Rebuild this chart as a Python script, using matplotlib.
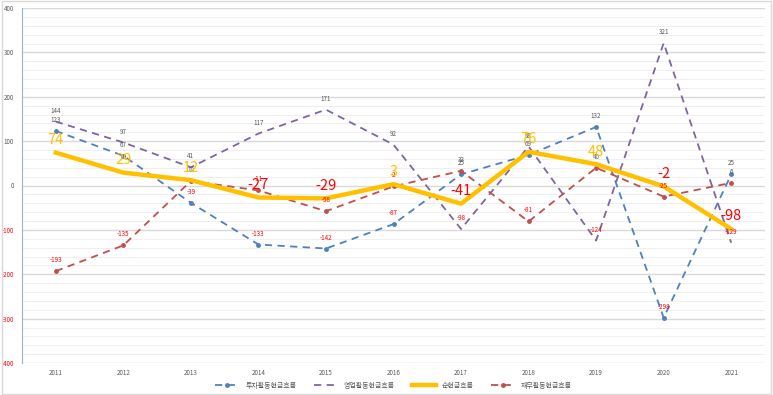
import matplotlib.pyplot as plt
import numpy as np

plt.rcParams['font.family'] = ['Noto Sans CJK KR', 'DejaVu Sans']

years = ['2011', '2012', '2013', '2014', '2015', '2016', '2017', '2018', '2019', '2020', '2021']
invest = [123, 67, -39, -133, -142, -87, 25, 69, 132, -298, 25]
operate = [144, 97, 41, 117, 171, 92, -98, 88, -124, 321, -129]
net = [74, 29, 12, -27, -29, 3, -41, 76, 48, -2, -98]
finance = [-193, -135, 10, -11, -58, -2, 33, -81, 40, -25, 6]

c_inv = '#4F81BD'
c_op = '#8064A2'
c_net = '#FFC000'
c_fin = '#C0504D'
gray = '#595959'
neg = '#FF0000'

fig = plt.figure(figsize=(7.73, 3.95), dpi=100)
ax = fig.add_axes([22 / 773, 1 - 363 / 395, 743 / 773, 355 / 395])
x = np.arange(len(years))

# gridlines: major every 100, minor every 20
for v in range(-400, 401, 20):
    if v % 100 == 0:
        ax.axhline(v, color='#D9D9D9', lw=1.0, zorder=0)
    else:
        ax.axhline(v, color='#EDEDED', lw=0.6, zorder=0)

ax.plot(x, invest, color=c_inv, lw=1.3, ls=(0, (4, 3)), marker='o', ms=2.5, zorder=3,
        label='투자활동현금흐름')
ax.plot(x, operate, color=c_op, lw=1.3, ls=(0, (4, 3)), zorder=3, label='영업활동현금흐름')
ax.plot(x, net, color=c_net, lw=3.2, zorder=4, label='순현금흐름')
ax.plot(x, finance, color=c_fin, lw=1.3, ls=(0, (4, 3)), marker='o', ms=2.5, zorder=3,
        label='재무활동현금흐름')

for series in (invest, operate, finance):
    for i, v in enumerate(series):
        ax.annotate(str(v), (i, v), xytext=(0, 5), textcoords='offset points', ha='center',
                    va='bottom', fontsize=4.5, color=gray if v >= 0 else neg, zorder=5)
for i, v in enumerate(net):
    ax.annotate(str(v), (i, v), xytext=(0, 4), textcoords='offset points', ha='center',
                va='bottom', fontsize=10.5, color=c_net if v >= 0 else neg, zorder=6)

ax.set_xlim(-0.5, len(years) - 0.5)
ax.set_ylim(-400, 400)
ax.set_xticks(x)
ax.set_xticklabels(years, fontsize=4.5, color=gray)
ax.set_yticks(range(-400, 401, 100))
ax.set_yticklabels([str(v) for v in range(-400, 401, 100)], fontsize=4.5)
for lab, v in zip(ax.get_yticklabels(), range(-400, 401, 100)):
    lab.set_color(gray if v >= 0 else neg)
ax.tick_params(axis='y', length=0, pad=6)
ax.tick_params(axis='x', length=0, pad=4)
for s in ['top', 'right', 'bottom']:
    ax.spines[s].set_visible(False)
ax.spines['left'].set_color('#95B3D7')
ax.spines['left'].set_linewidth(0.8)

ax.legend(loc='upper center', bbox_to_anchor=(0.5, -0.035), ncol=4, frameon=False,
          fontsize=5, labelcolor=gray, handlelength=3.5, columnspacing=2.5)

fig.patches.append(plt.Rectangle((0.002, 0.003), 0.995, 0.994, transform=fig.transFigure,
                                 fill=False, edgecolor='#D9D9D9', lw=1))
fig.savefig('out.png', dpi=100)
